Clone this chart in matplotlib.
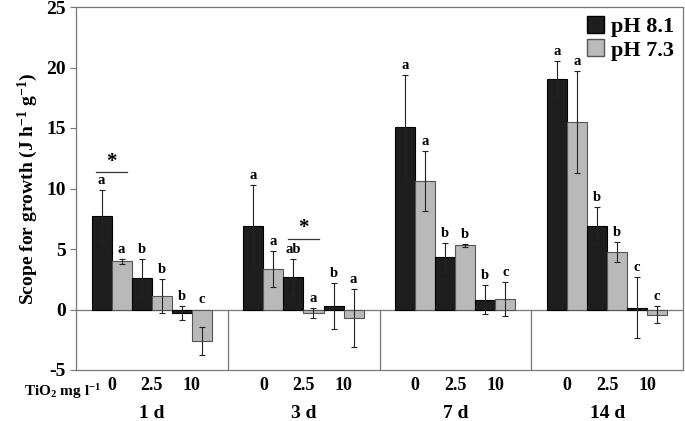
import numpy as np
import matplotlib.pyplot as plt
from matplotlib.patches import Patch

plt.rcParams['font.family'] = ['Liberation Serif', 'DejaVu Serif']
plt.rcParams['font.weight'] = 'bold'
plt.rcParams['axes.labelweight'] = 'bold'
plt.rcParams['axes.unicode_minus'] = False
plt.rcParams['mathtext.fontset'] = 'custom'
plt.rcParams['mathtext.rm'] = 'Liberation Serif:bold'
plt.rcParams['mathtext.it'] = 'Liberation Serif:bold'
plt.rcParams['mathtext.bf'] = 'Liberation Serif:bold'

days = ['1 d', '3 d', '7 d', '14 d']
doses = ['0', '2.5', '10']

# means per day, doses 0 / 2.5 / 10
ph81 = [[7.75, 2.6, -0.3], [6.9, 2.67, 0.27], [15.07, 4.3, 0.8], [19.03, 6.93, 0.15]]
ph73 = [[3.98, 1.1, -2.6], [3.35, -0.3, -0.7], [10.6, 5.3, 0.9], [15.5, 4.76, -0.45]]
err81 = [[2.15, 1.6, 0.6], [3.35, 1.5, 1.9], [4.3, 1.2, 1.2], [1.5, 1.5, 2.5]]
err73 = [[0.2, 1.4, 1.15], [1.5, 0.4, 2.4], [2.5, 0.15, 1.4], [4.2, 0.8, 0.7]]
let81 = [['a', 'b', 'b'], ['a', 'ab', 'b'], ['a', 'b', 'b'], ['a', 'b', 'c']]
let73 = [['a', 'b', 'c'], ['a', 'a', 'a'], ['a', 'b', 'c'], ['a', 'b', 'c']]
# significance between pH: (day, dose, line height)
stars = [(0, 0, 11.35), (1, 1, 5.83)]

dark = '#1e1e1e'
light = '#b9b9b9'
grey = '#777777'

fig = plt.figure(figsize=(6.85, 4.21), dpi=100)
ax = fig.add_axes([76/685, 51/421, 607/685, 363/421])

w = 0.132
x0 = 0.103
for d in range(4):
    for k in range(3):
        xa = d + x0 + k*2*w + w/2
        xb = xa + w
        ax.bar(xa, ph81[d][k], w, color=dark, edgecolor='black', linewidth=0.8, zorder=3)
        ax.bar(xb, ph73[d][k], w, color=light, edgecolor='#555555', linewidth=0.8, zorder=3)
        ax.errorbar(xa, ph81[d][k], yerr=err81[d][k], fmt='none', ecolor='#222222',
                    elinewidth=0.8, capsize=2.5, capthick=0.8, zorder=4)
        ax.errorbar(xb, ph73[d][k], yerr=err73[d][k], fmt='none', ecolor='#222222',
                    elinewidth=0.8, capsize=2.5, capthick=0.8, zorder=4)
        ax.text(xa, max(ph81[d][k] + err81[d][k], 0) + 0.25, let81[d][k],
                ha='center', va='bottom', fontsize=10.5)
        ax.text(xb, max(ph73[d][k] + err73[d][k], 0) + 0.25, let73[d][k],
                ha='center', va='bottom', fontsize=10.5)
        ax.text(xa + w/2, -6.3, doses[k], ha='center', va='center', fontsize=13)
    ax.text(d + 0.5, -8.6, days[d], ha='center', va='center', fontsize=14)
    if d > 0:
        ax.plot([d, d], [-5, 0], color=grey, linewidth=0.9)

for d, k, h in stars:
    xc = d + x0 + k*2*w + w
    ax.plot([xc - 0.1, xc + 0.1], [h, h], color='#333333', linewidth=0.9)
    ax.text(xc, h + 0.05, '*', ha='center', va='bottom', fontsize=15)

ax.axhline(0, color=grey, linewidth=0.9, zorder=2)
ax.text(-0.085, -6.75, r'TiO$_2$ mg l$^{-1}$', ha='center', va='center', fontsize=11,
        clip_on=False)

ax.set_xlim(0, 4)
ax.set_ylim(-5, 25)
ax.set_yticks(range(-5, 30, 5))
ax.set_xticks([])
ax.tick_params(axis='y', labelsize=14, length=4, color=grey)
plt.setp(ax.get_yticklabels(), fontweight='bold')
for s in ax.spines.values():
    s.set_color(grey)
    s.set_linewidth(0.9)
ax.set_ylabel(r'Scope for growth (J h$^{-1}$ g$^{-1}$)', fontsize=14, labelpad=4)

hs = [Patch(facecolor=dark, edgecolor='black'), Patch(facecolor=light, edgecolor='#555555')]
ax.legend(hs, ['pH 8.1', 'pH 7.3'], loc='upper right', frameon=False,
          prop={'size': 16, 'weight': 'bold'},
          handlelength=0.8, handleheight=0.8, handletextpad=0.3, labelspacing=0.1,
          borderaxespad=0.2, borderpad=0.2)

fig.savefig('out.png', dpi=100)
